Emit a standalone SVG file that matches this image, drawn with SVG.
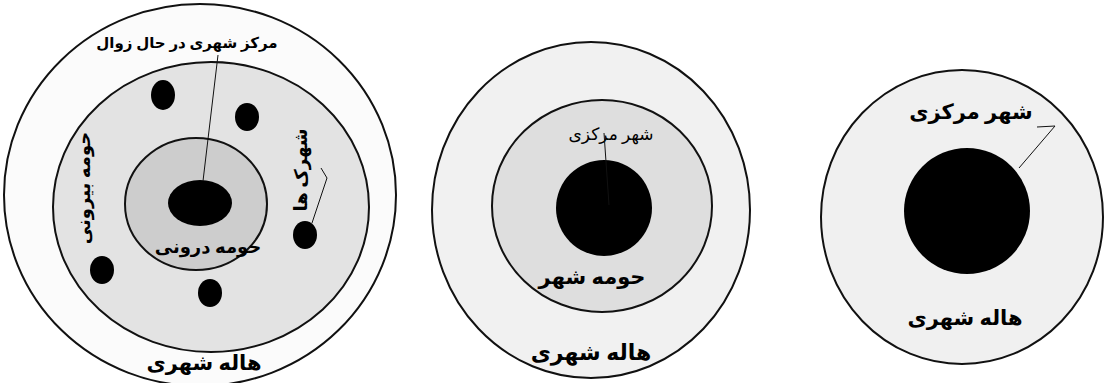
<svg xmlns="http://www.w3.org/2000/svg" width="1104" height="383" viewBox="0 0 1104 383">
<style>
.ring{stroke:#111;stroke-width:2}
.blk{fill:#000}
.t{font-family:"Liberation Serif","Noto Sans","DejaVu Sans",serif;fill:#000;text-anchor:middle;direction:rtl}
.b{font-weight:bold}
.ln{stroke:#111;stroke-width:1;fill:none}
</style>
<rect width="1104" height="383" fill="#fff"/>

<g id="diagram-decline">
  <ellipse class="ring" cx="200" cy="195" rx="196" ry="191" fill="#fbfbfb"/>
  <ellipse class="ring" cx="211" cy="207" rx="158" ry="145" fill="#e3e3e3"/>
  <ellipse class="ring" cx="196" cy="204" rx="71" ry="66" fill="#cdcdcd"/>
  <ellipse class="blk" cx="200" cy="203" rx="32" ry="23"/>
  <ellipse class="blk" cx="163" cy="95" rx="12" ry="15"/>
  <ellipse class="blk" cx="247" cy="117" rx="12" ry="14"/>
  <ellipse class="blk" cx="305" cy="235" rx="12" ry="14"/>
  <ellipse class="blk" cx="102" cy="270" rx="12" ry="14"/>
  <ellipse class="blk" cx="210" cy="293" rx="12" ry="14"/>
  <text class="t b" x="187" y="48" font-size="15">مرکز شهری در حال زوال</text>
  <text class="t b" x="208" y="253" font-size="18">حومه درونی</text>
  <text class="t b" x="204" y="370" font-size="21">هاله شهری</text>
  <text class="t b" x="0" y="0" font-size="18" transform="translate(90,188) rotate(-90)">حومه بیرونی</text>
  <text class="t b" x="0" y="0" font-size="18" transform="translate(307,170) rotate(-90)">شهرک ها</text>
</g>

<g id="diagram-suburb">
  <ellipse class="ring" cx="591" cy="210" rx="159" ry="168" fill="#f1f1f1"/>
  <ellipse class="ring" cx="602" cy="206" rx="110" ry="106" fill="#dedede"/>
  <circle class="blk" cx="604" cy="208" r="48"/>
  <text class="t" x="611" y="140" font-size="17">شهر مرکزی</text>
  <text class="t b" x="592" y="284" font-size="21">حومه شهر</text>
  <text class="t b" x="591" y="360" font-size="22">هاله شهری</text>
</g>

<g id="diagram-central">
  <ellipse class="ring" cx="962" cy="217" rx="141" ry="147" fill="#f0f0f0"/>
  <circle class="blk" cx="967" cy="211" r="63"/>
  <text class="t b" x="971" y="119" font-size="21">شهر مرکزی</text>
  <text class="t b" x="965" y="325" font-size="21">هاله شهری</text>
</g>

<g id="connectors">
  <line class="ln" x1="218" y1="55" x2="203" y2="181"/>
  <polyline class="ln" points="321,168 327,178 312,223"/>
  <line class="ln" x1="604" y1="133" x2="609" y2="205"/>
  <polyline class="ln" points="1037,127 1055,126 1019,168"/>
</g>
</svg>
